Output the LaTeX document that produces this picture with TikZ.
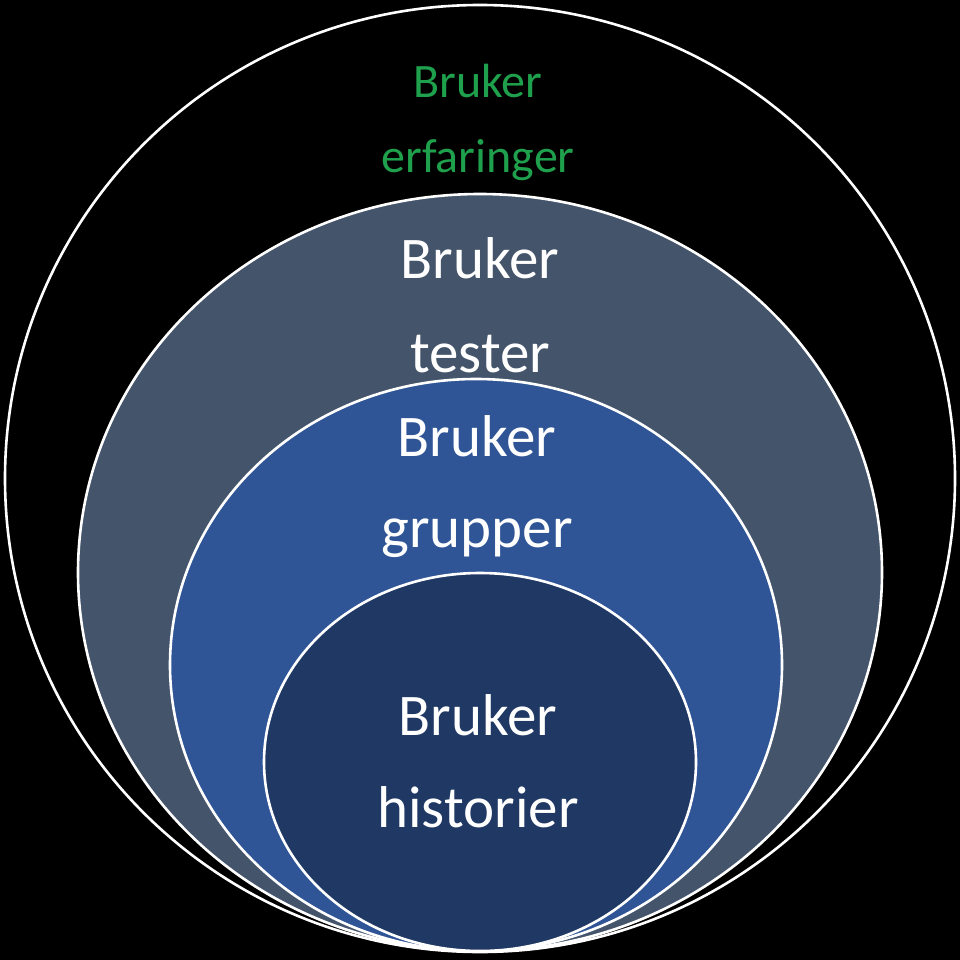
\documentclass[tikz,border=0pt]{standalone}
\usepackage{fontspec}
\setmainfont{Carlito}
\definecolor{bggray}{HTML}{44546A}
\definecolor{bgblue}{HTML}{2F5597}
\definecolor{bgnavy}{HTML}{203864}
\definecolor{txtgreen}{HTML}{1FA04C}
\begin{document}
\begin{tikzpicture}[x=1pt,y=-1pt,
  ring/.style={draw=white,line width=2.6pt},
  big/.style={font=\fontsize{59}{59}\selectfont,text=white,anchor=base,inner sep=0pt},
  small/.style={font=\fontsize{48}{48}\selectfont,text=txtgreen,anchor=base,inner sep=0pt}]
\fill[black] (0,0) rectangle (960,960);
\useasboundingbox (0,0) rectangle (960,960);
\draw[ring,fill=black] (480,478.5) ellipse [x radius=475, y radius=473.5];
\draw[ring,fill=bggray] (480,572.5) ellipse [x radius=402, y radius=378.5];
\draw[ring,fill=bgblue] (476,665) ellipse [x radius=306, y radius=286];
\draw[ring,fill=bgnavy] (480,762) ellipse [x radius=216, y radius=189];
\node[small] (g1) at (478,98) {Bruker};
\node[small] (g2) at (478,173) {erfaringer};
\node[big] (t1) at (480,278) {Bruker};
\node[big] (t2) at (480,372) {tester};
\node[big] (b1) at (477,456) {Bruker};
\node[big] (b2) at (477,547) {grupper};
\node[big] (n1) at (478,735) {Bruker};
\node[big] (n2) at (478,827) {historier};
\end{tikzpicture}
\end{document}
